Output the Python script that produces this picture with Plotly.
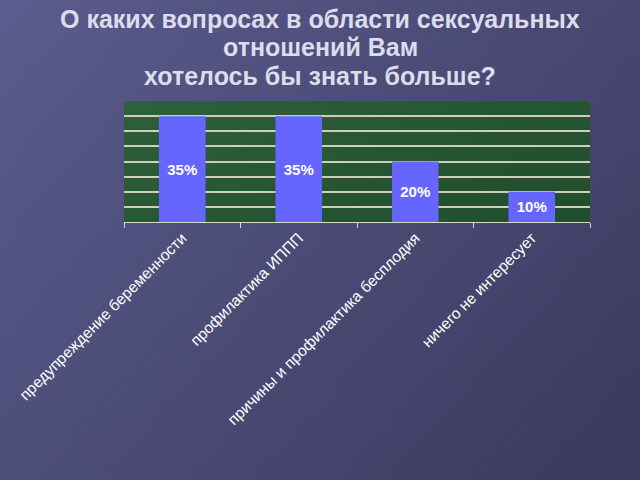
import base64, struct, zlib
import plotly.graph_objects as go

categories = ["предупреждение беременности", "профилактика ИППП",
              "причины и профилактика бесплодия", "ничего не интересует"]
values = [35, 35, 20, 10]
labels = ["35%", "35%", "20%", "10%"]
title_lines = ["О каких вопросах в области сексуальных", "отношений Вам",
               "хотелось бы знать больше?"]

# background gradient as an inline PNG
def gradient_png(w, h, c1, c2):
    rows = []
    for y in range(h):
        row = bytearray([0])
        for x in range(w):
            t = (x / (w - 1)) * 0.6 + (y / (h - 1)) * 0.4
            row += bytes(int(c1[i] + (c2[i] - c1[i]) * t) for i in range(3))
        rows.append(bytes(row))
    raw = b"".join(rows)
    def chunk(tag, data):
        c = struct.pack(">I", len(data)) + tag + data
        return c + struct.pack(">I", zlib.crc32(tag + data) & 0xffffffff)
    png = b"\x89PNG\r\n\x1a\n" + chunk(b"IHDR", struct.pack(">IIBBBBB", w, h, 8, 2, 0, 0, 0))
    png += chunk(b"IDAT", zlib.compress(raw)) + chunk(b"IEND", b"")
    return "data:image/png;base64," + base64.b64encode(png).decode()

bg = gradient_png(64, 48, (92, 92, 142), (58, 58, 94))
green = gradient_png(8, 8, (46, 96, 58), (34, 78, 46))

PW, PH, L, T = 466, 121, 124, 101

fig = go.Figure(go.Bar(
    x=categories, y=values, text=labels,
    textposition="inside", insidetextanchor="middle",
    textfont=dict(family="Liberation Sans, Arial", size=15, color="white"),
    texttemplate="<b>%{text}</b>",
    marker=dict(color="#6666FF", line=dict(width=0)),
    hoverinfo="skip",
))

annotations = []
for i, (line, yc) in enumerate(zip(title_lines, [19, 47, 76])):
    annotations.append(dict(
        text=f"<b>{line}</b>", xref="paper", yref="paper",
        x=(320 - L) / PW, y=1 + (T - yc) / PH, xanchor="center", yanchor="middle",
        showarrow=False,
        font=dict(family="Liberation Sans, Arial", size=25, color="#dcdcec"),
    ))

fig.update_layout(
    width=640, height=480,
    margin=dict(l=L, r=640 - L - PW, t=T, b=480 - T - PH),
    paper_bgcolor="#4b4b7a",
    plot_bgcolor="#2b5a36",
    bargap=0.6,
    showlegend=False,
    annotations=annotations,
    images=[
        dict(source=bg, xref="paper", yref="paper", x=-L / PW, y=1 + T / PH,
             sizex=640 / PW, sizey=480 / PH, xanchor="left", yanchor="top",
             sizing="stretch", layer="below"),
        dict(source=green, xref="paper", yref="paper", x=0, y=1,
             sizex=1, sizey=1, xanchor="left", yanchor="top",
             sizing="stretch", layer="below"),
    ],
    xaxis=dict(
        tickangle=-45, tickson="boundaries", ticks="outside", ticklen=5,
        tickcolor="#d8d8c8", showline=True, linecolor="#d8d8c8", linewidth=1,
        tickfont=dict(family="Liberation Sans, Arial", size=15.5, color="white"),
        showgrid=False,
    ),
    yaxis=dict(
        range=[0, 40], dtick=5, showticklabels=False, ticks="",
        showgrid=True, gridcolor="#cfcfb8", gridwidth=1.5,
        zeroline=False, showline=False,
    ),
)

fig.write_html("out.html")
